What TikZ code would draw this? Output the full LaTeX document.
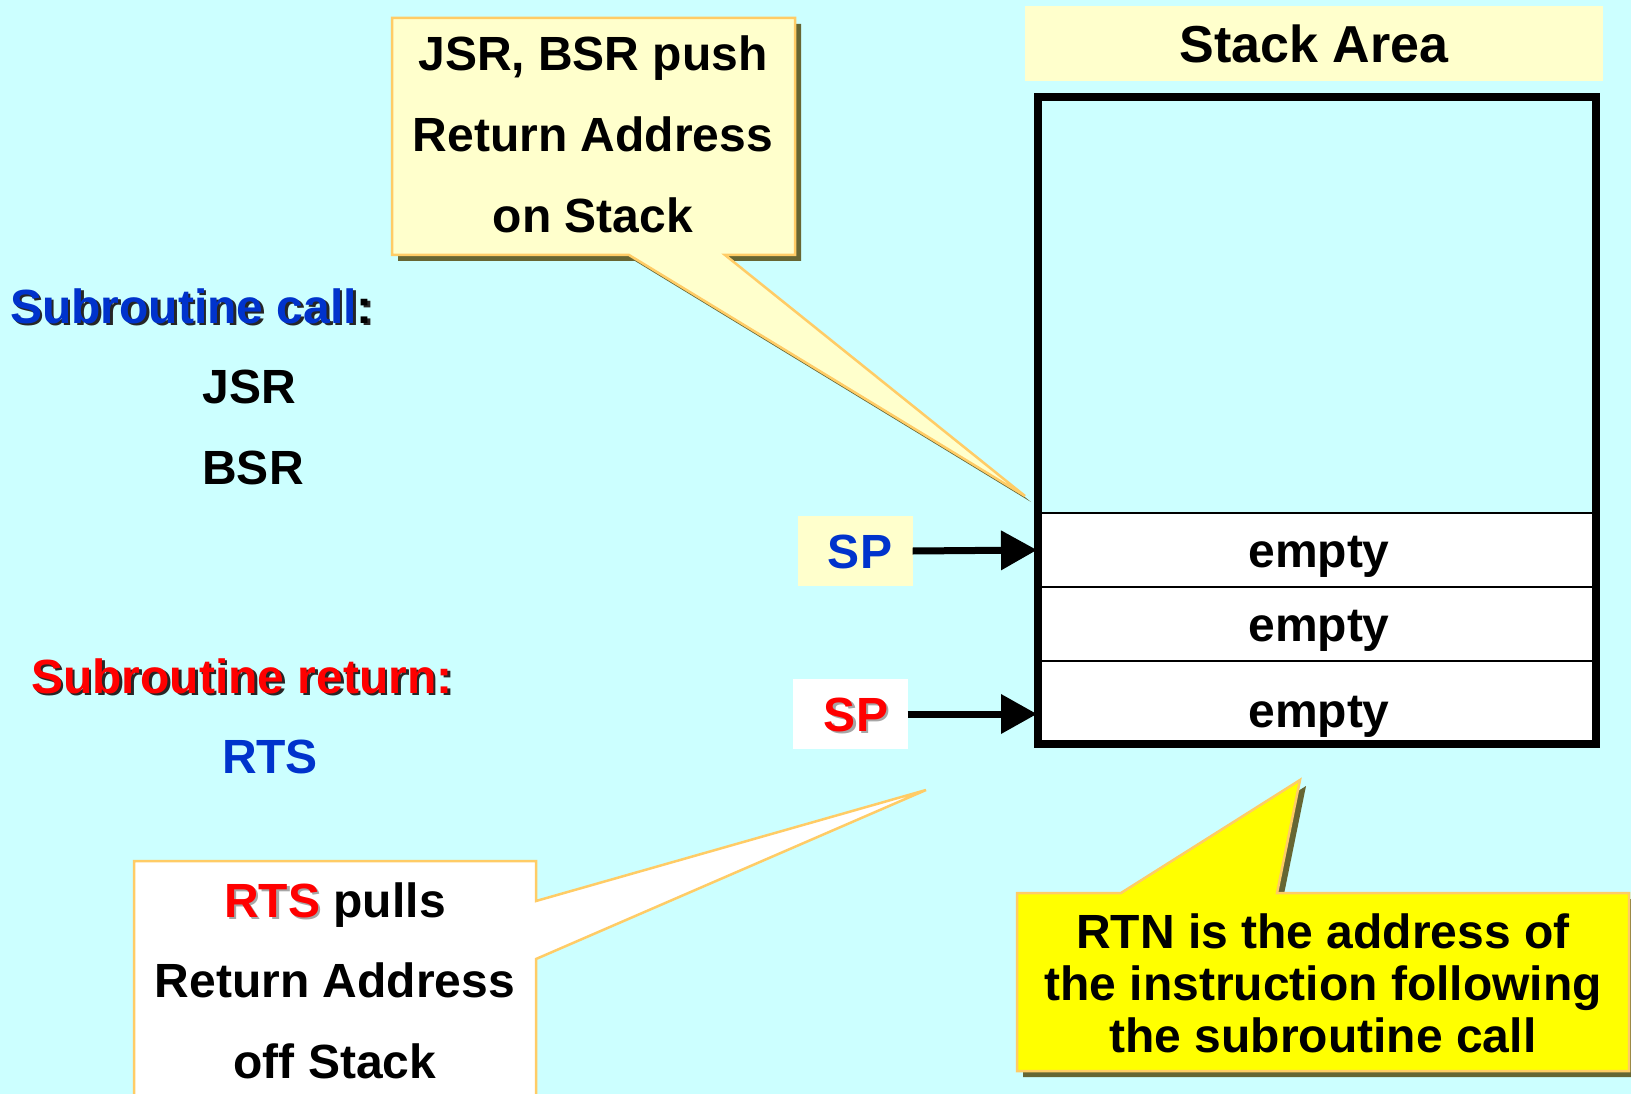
\documentclass[tikz,border=0pt]{standalone}
\usepackage{fontspec}
\setmainfont{Liberation Sans}
\usetikzlibrary{arrows.meta}
\definecolor{bg}{HTML}{CCFFFF}
\definecolor{ltyel}{HTML}{FFFFCC}
\definecolor{calloutborder}{HTML}{FFCC66}
\definecolor{shad}{HTML}{666633}
\definecolor{myblue}{HTML}{0033CC}
\definecolor{myred}{HTML}{FF0000}
\definecolor{yel}{HTML}{FFFF00}
\newcommand{\shtext}[3]{\makebox[0pt][l]{\hspace{2.5pt}\raisebox{-2.5pt}{\textcolor{#1}{#3}}}\textcolor{#2}{#3}}
\begin{document}
\begin{tikzpicture}[x=1pt,y=-1pt,
  txt/.style={font=\fontsize{48}{52}\selectfont\bfseries, inner sep=0pt, anchor=base},
  hdr/.style={font=\fontsize{52}{56}\selectfont\bfseries, inner sep=0pt, anchor=base},
  callout/.style={draw=calloutborder, line width=2.5pt, line join=miter},
  rowbox/.style={draw=black, line width=2pt, fill=white, minimum width=558pt, inner sep=0pt,
    font=\fontsize{48}{52}\selectfont\bfseries},
  spbox/.style={inner sep=0pt, minimum width=115pt, minimum height=70pt},
  sparrow/.style={line width=7pt, -{Triangle[length=36pt,width=38pt]}}
]
\useasboundingbox (0,0) rectangle (1631,1094);
\fill[bg] (0,0) rectangle (1631,1094);
\clip (0,0) rectangle (1631,1094);

% Stack area header
\fill[ltyel] (1025,6) rectangle (1603,81);
\node[hdr] (hdr) at (1314,63) {Stack Area};

% Stack rows
\node[rowbox, minimum height=74pt] (r1) at (1317,550) {};
\node[rowbox, minimum height=74pt] (r2) at (1317,624) {};
\node[rowbox, minimum height=83pt] (r3) at (1317,702.5) {};
\node[txt] (e1) at (1319,567) {empty};
\node[txt] (e2) at (1319,641) {empty};
\node[txt] (e3) at (1319,727) {empty};
% Stack frame
\draw[line width=7.5pt] (1038,97) rectangle (1596,744);

% SP boxes and arrows
\node[spbox, fill=ltyel] (spb) at (855,551) {};
\node[txt, text=myblue] (spbt) at (860,568) {SP};
\node[spbox, fill=white] (spr) at (850,714) {};
\node[txt] (sprt) at (856,731) {\shtext{gray!70}{myred}{SP}};
\draw[sparrow] (spb.east) -- (r1.west);
\draw[sparrow] (spr.east) -- (r3.west |- spr.east);

% Left texts
\node[txt, anchor=base west] (call) at (10,323) {\shtext{black!85}{myblue}{Subroutine call}\shtext{black!85}{black}{:}};
\node[txt] (jsr) at (249,403) {JSR};
\node[txt] (bsr) at (253,484) {BSR};
\node[txt, anchor=base west] (ret) at (31,693) {\shtext{black!85}{myred}{Subroutine return:}};
\node[txt, text=myblue] (rts) at (270,773) {RTS};

% Callout 1
\fill[shad] ([shift={(6,6)}]392,18) -- ([shift={(6,6)}]795,18) -- ([shift={(6,6)}]795,255) -- ([shift={(6,6)}]725,255) -- ([shift={(6,6)}]1025,496) -- ([shift={(6,6)}]629,255) -- ([shift={(6,6)}]392,255) -- cycle;
\filldraw[callout, fill=ltyel] (392,18) -- (795,18) -- (795,255) -- (725,255) -- (1025,496) -- (629,255) -- (392,255) -- cycle;
\node[txt] (c1a) at (593,71) {JSR, BSR push};
\node[txt] (c1b) at (593,152) {Return Address};
\node[txt] (c1c) at (593,233) {on Stack};

% Callout 2
\filldraw[callout, fill=white] (134,861) -- (536,861) -- (536,901) -- (926,790) -- (536,959) -- (536,1110) -- (134,1110) -- cycle;
\node[txt] (c2a) at (335,917) {\shtext{gray!70}{myred}{RTS} pulls};
\node[txt] (c2b) at (335,997) {Return Address};
\node[txt] (c2c) at (335,1078) {off Stack};

% Callout 3
\fill[shad] ([shift={(6,6)}]1017,893) -- ([shift={(6,6)}]1121,893) -- ([shift={(6,6)}]1300,780) -- ([shift={(6,6)}]1277,893) -- ([shift={(6,6)}]1629,893) -- ([shift={(6,6)}]1629,1071) -- ([shift={(6,6)}]1017,1071) -- cycle;
\filldraw[callout, fill=yel] (1017,893) -- (1121,893) -- (1300,780) -- (1277,893) -- (1629,893) -- (1629,1071) -- (1017,1071) -- cycle;
\node[txt] (c3a) at (1323,948) {RTN is the address of};
\node[txt] (c3b) at (1323,1000) {the instruction following};
\node[txt] (c3c) at (1323,1052) {the subroutine call};
\end{tikzpicture}
\end{document}
